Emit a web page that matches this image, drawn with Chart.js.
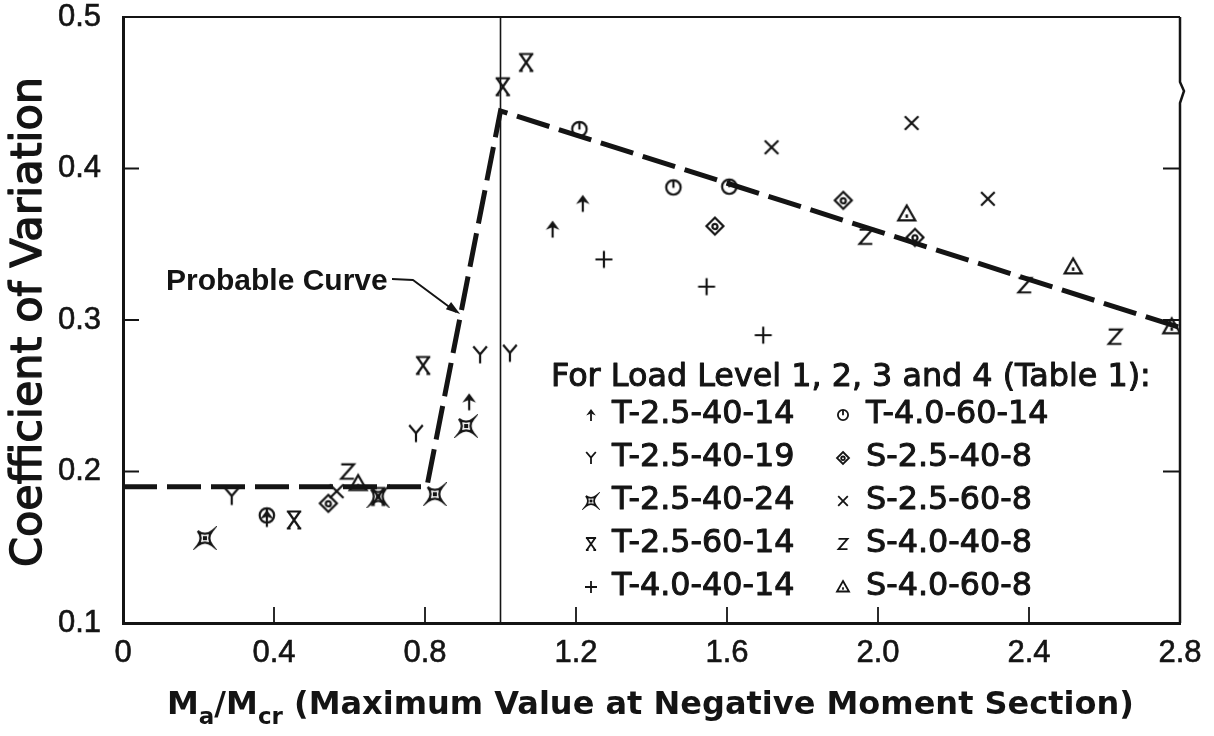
<!DOCTYPE html>
<html>
<head>
<meta charset="utf-8">
<title>Coefficient of Variation vs Ma/Mcr</title>
<script src="https://cdn.jsdelivr.net/npm/chart.js@4.4.1/dist/chart.umd.min.js"></script>
<style>
  html, body { margin: 0; padding: 0; background: #fff; }
  #wrap { width: 1214px; height: 736px; }
</style>
</head>
<body>
<div id="wrap"><canvas id="cov-chart" width="1214" height="736"></canvas></div>
<script>
// Specimen series, legend order (left column then right column)
const seriesNames = ['T-2.5-40-14', 'T-2.5-40-19', 'T-2.5-40-24', 'T-2.5-60-14', 'T-4.0-40-14',
  'T-4.0-60-14', 'S-2.5-40-8', 'S-2.5-60-8', 'S-4.0-40-8', 'S-4.0-60-8'];
const seriesMarks = ['arrow', 'fork', 'star', 'hourglass', 'plus',
  'circle', 'diamond', 'cross', 'zed', 'triangle'];

// [Ma/Mcr, coefficient of variation] for load levels 1-4
const t25_40_14 = [[0.381, 0.169], [0.917, 0.246], [1.138, 0.360], [1.218, 0.377]];
const t25_40_19 = [[0.288, 0.1835], [0.776, 0.225], [0.946, 0.277], [1.025, 0.278]];
const t25_40_24 = [[0.217, 0.156], [0.676, 0.1835], [0.826, 0.185], [0.909, 0.230]];
const t25_60_14 = [[0.453, 0.168], [0.676, 0.1835], [0.795, 0.270], [1.006, 0.454], [1.068, 0.470]];
const t40_40_14 = [[1.274, 0.340], [1.546, 0.322], [1.696, 0.290]];
const t40_60_14 = [[0.381, 0.171], [1.209, 0.426], [1.458, 0.3875], [1.606, 0.388]];
const s25_40_8 = [[0.544, 0.179], [1.568, 0.362], [1.908, 0.379], [2.098, 0.3545]];
const s25_60_8 = [[0.566, 0.187], [1.718, 0.414], [2.089, 0.430], [2.291, 0.380]];
const s40_40_8 = [[0.595, 0.200], [1.968, 0.355], [2.389, 0.323], [2.628, 0.289]];
const s40_60_8 = [[0.623, 0.192], [2.076, 0.370], [2.517, 0.335], [2.778, 0.2955]];
const seriesData = [t25_40_14, t25_40_19, t25_40_24, t25_60_14, t40_40_14,
  t40_60_14, s25_40_8, s25_60_8, s40_40_8, s40_60_8];

// probable curve
const probableX = [0, 0.805, 1.0, 2.8];
const probableY = [0.19, 0.19, 0.438, 0.295];
const crackRatio = 1.0;
const noteTip = [0.893, 0.304];

const xTicks = [0, 0.4, 0.8, 1.2, 1.6, 2.0, 2.4, 2.8];
const xTickLabels = ['0', '0.4', '0.8', '1.2', '1.6', '2.0', '2.4', '2.8'];
const yTicks = [0.1, 0.2, 0.3, 0.4, 0.5];
const yTickLabels = ['0.1', '0.2', '0.3', '0.4', '0.5'];

const INK = '#141414';
const SANS = '"DejaVu Sans", sans-serif';

// little glyph canvases used as point styles
function makeMark(kind, size, lw) {
  const c = document.createElement('canvas');
  c.width = c.height = Math.ceil(size + lw * 2 + 2);
  const g = c.getContext('2d');
  let h = size / 2;
  g.translate(c.width / 2, c.height / 2);
  g.strokeStyle = INK;
  g.fillStyle = INK;
  g.lineWidth = lw;
  g.beginPath();
  switch (kind) {
    case 'arrow':
      g.moveTo(0, h); g.lineTo(0, -h * 0.3); g.stroke();
      g.beginPath();
      g.moveTo(0, -h); g.lineTo(h * 0.8, h * 0.1); g.lineTo(0, -h * 0.25); g.lineTo(-h * 0.8, h * 0.1);
      g.closePath(); g.fill();
      break;
    case 'fork':
      g.moveTo(-h * 0.8, -h); g.lineTo(0, -h * 0.05); g.lineTo(h * 0.8, -h);
      g.moveTo(0, -h * 0.05); g.lineTo(0, h); g.stroke();
      break;
    case 'star':
      h *= 0.85;
      g.moveTo(-h, -h);
      g.quadraticCurveTo(0, -h * 0.2, h, -h);
      g.quadraticCurveTo(h * 0.2, 0, h, h);
      g.quadraticCurveTo(0, h * 0.2, -h, h);
      g.quadraticCurveTo(-h * 0.2, 0, -h, -h);
      g.stroke();
      g.fillRect(-h * 0.28, -h * 0.28, h * 0.56, h * 0.56);
      break;
    case 'hourglass':
      g.moveTo(-h * 0.85, -h); g.lineTo(h * 0.85, -h);
      g.moveTo(-h * 0.7, -h); g.lineTo(h * 0.7, h);
      g.moveTo(h * 0.7, -h); g.lineTo(-h * 0.7, h);
      g.moveTo(-h * 0.85, h); g.lineTo(-h * 0.4, h);
      g.moveTo(h * 0.4, h); g.lineTo(h * 0.85, h);
      g.stroke();
      break;
    case 'plus':
      g.moveTo(-h, 0); g.lineTo(h, 0); g.moveTo(0, -h); g.lineTo(0, h); g.stroke();
      break;
    case 'circle':
      g.arc(0, 0, h * 0.85, 0, Math.PI * 2); g.stroke();
      g.beginPath(); g.moveTo(0, -h * 0.85); g.lineTo(0, h * 0.05); g.stroke();
      break;
    case 'diamond':
      g.moveTo(0, -h); g.lineTo(h, 0); g.lineTo(0, h); g.lineTo(-h, 0); g.closePath(); g.stroke();
      g.beginPath(); g.arc(0, h * 0.05, h * 0.3, 0, Math.PI * 2); g.stroke();
      break;
    case 'cross':
      g.moveTo(-h * 0.8, -h * 0.8); g.lineTo(h * 0.8, h * 0.8);
      g.moveTo(h * 0.8, -h * 0.8); g.lineTo(-h * 0.8, h * 0.8); g.stroke();
      break;
    case 'zed':
      g.moveTo(-h * 0.75, -h * 0.85); g.lineTo(h * 0.75, -h * 0.85);
      g.lineTo(-h * 0.75, h * 0.85); g.lineTo(h * 0.75, h * 0.85); g.stroke();
      break;
    case 'triangle':
      g.moveTo(0, -h); g.lineTo(h, h * 0.75); g.lineTo(-h, h * 0.75); g.closePath(); g.stroke();
      g.fillRect(-h * 0.15, h * 0.05, h * 0.3, h * 0.4);
      break;
  }
  return c;
}

const plotMarks = seriesMarks.map(k => makeMark(k, 17, 2.2));
const keyMarks = seriesMarks.map(k => makeMark(k, 12, 1.8));

const datasets = seriesData.map((pts, i) => ({
  label: seriesNames[i],
  data: pts.map(p => ({ x: p[0], y: p[1] })),
  pointStyle: plotMarks[i],
  showLine: false,
}));

datasets.push({
  type: 'line',
  label: 'Probable Curve',
  data: probableX.map((x, i) => ({ x, y: probableY[i] })),
  borderColor: INK,
  borderWidth: 5,
  borderDash: [34, 10],
  pointRadius: 0,
  tension: 0,
  fill: false,
});

function inkLine(ctx, pts, lw) {
  ctx.beginPath();
  ctx.moveTo(pts[0][0], pts[0][1]);
  for (let i = 1; i < pts.length; i++) ctx.lineTo(pts[i][0], pts[i][1]);
  ctx.lineWidth = lw;
  ctx.stroke();
}

// fill plus a thin outline, gives the book face a medium weight
function inkText(ctx, s, x, y, sw) {
  ctx.fillText(s, x, y);
  if (sw) {
    ctx.lineWidth = sw;
    ctx.strokeText(s, x, y);
  }
}

// frame, inward ticks and the Ma = Mcr line, under the marks
const framePlugin = {
  id: 'frame',
  beforeDatasetsDraw(chart) {
    const { ctx, chartArea: a, scales: { x, y } } = chart;
    ctx.save();
    ctx.strokeStyle = INK;
    ctx.lineCap = 'butt';
    // top and right edges, right one with a break
    inkLine(ctx, [[a.left, a.top], [a.right, a.top]], 2);
    inkLine(ctx, [[a.right, a.top], [a.right, a.top + 65], [a.right + 4, a.top + 74],
      [a.right, a.top + 86], [a.right, a.bottom]], 2.5);
    yTicks.slice(1, -1).forEach(v => {
      const py = y.getPixelForValue(v);
      inkLine(ctx, [[a.left, py], [a.left + 16, py]], 2);
      inkLine(ctx, [[a.right, py], [a.right - 17, py]], 2);
    });
    xTicks.slice(1, -1).forEach(v => {
      const px = x.getPixelForValue(v);
      inkLine(ctx, [[px, a.bottom], [px, a.bottom - 16]], 1.8);
    });
    const cx = x.getPixelForValue(crackRatio);
    inkLine(ctx, [[cx, a.top], [cx, a.bottom]], 1.6);
    ctx.restore();
  },
  afterDraw(chart) {
    const { ctx, scales: { x, y } } = chart;
    ctx.save();
    ctx.fillStyle = INK;
    ctx.strokeStyle = INK;
    ctx.lineJoin = 'round';

    // axis titles
    ctx.save();
    ctx.translate(30, 322);
    ctx.rotate(-Math.PI / 2);
    ctx.font = '43px ' + SANS;
    ctx.textAlign = 'center';
    ctx.textBaseline = 'middle';
    inkText(ctx, 'Coefficient of Variation', 0, 0, 1.4);
    ctx.restore();

    const big = 'bold 32px ' + SANS;
    const small = 'bold 23px ' + SANS;
    const parts = [['M', big, 0], ['a', small, 10], ['/M', big, 0], ['cr', small, 10],
      [' (Maximum Value at Negative Moment Section)', big, 0]];
    ctx.textBaseline = 'alphabetic';
    ctx.textAlign = 'left';
    let tx = 167;
    parts.forEach(([s, f, dy]) => {
      ctx.font = f;
      ctx.fillText(s, tx, 714 + dy);
      tx += ctx.measureText(s).width;
    });

    // annotation of the curve
    ctx.font = 'bold 30px "Liberation Sans", Arial, sans-serif';
    ctx.textBaseline = 'middle';
    ctx.fillText('Probable Curve', 166, 282);
    const tipX = x.getPixelForValue(noteTip[0]);
    const tipY = y.getPixelForValue(noteTip[1]);
    inkLine(ctx, [[392, 279], [413, 280], [tipX - 4, tipY - 2]], 2);
    const ang = Math.atan2(tipY - 280, tipX - 413);
    ctx.beginPath();
    ctx.moveTo(tipX, tipY);
    ctx.lineTo(tipX - 15 * Math.cos(ang - 0.3), tipY - 15 * Math.sin(ang - 0.3));
    ctx.lineTo(tipX - 15 * Math.cos(ang + 0.3), tipY - 15 * Math.sin(ang + 0.3));
    ctx.closePath();
    ctx.fill();

    // key
    ctx.font = '31.8px ' + SANS;
    inkText(ctx, 'For Load Level 1, 2, 3 and 4 (Table 1):', 551, 378, 1);
    seriesNames.forEach((name, i) => {
      const col = i < 5 ? 0 : 1;
      const row = i % 5;
      const ky = 415 + row * 43;
      const mx = col ? 843 : 591;
      const m = keyMarks[i];
      ctx.drawImage(m, mx - m.width / 2, ky - m.height / 2);
      inkText(ctx, name, col ? 866 : 612, ky, 1);
    });
    ctx.restore();
  }
};

const tickFont = { family: '"Liberation Sans", Arial, sans-serif', size: 31 };

// drop the label overhang padding so the plot box keeps its place
function noOverhang(s) {
  s.paddingTop = 0;
  s.paddingBottom = 0;
  s.paddingLeft = 0;
  s.paddingRight = 0;
}

new Chart(document.getElementById('cov-chart'), {
  type: 'scatter',
  data: { datasets },
  options: {
    responsive: false,
    animation: false,
    layout: { padding: { top: 17, right: 34, left: 0, bottom: 0 } },
    plugins: { legend: { display: false }, tooltip: { enabled: false } },
    scales: {
      x: {
        type: 'linear', min: 0, max: 2.8,
        afterFit: s => { s.height = 113; noOverhang(s); },
        afterBuildTicks: s => { s.ticks = xTicks.map(v => ({ value: v })); },
        grid: { display: false, drawTicks: false },
        border: { display: true, color: INK, width: 3 },
        ticks: {
          font: tickFont, color: INK, padding: 12, maxRotation: 0, autoSkip: false,
          textStrokeColor: INK, textStrokeWidth: 0.6,
          callback: (v, i) => xTickLabels[i],
        },
      },
      y: {
        type: 'linear', min: 0.1, max: 0.5,
        afterFit: s => { s.width = 123; noOverhang(s); },
        afterBuildTicks: s => { s.ticks = yTicks.map(v => ({ value: v })); },
        grid: { display: false, drawTicks: false },
        border: { display: true, color: INK, width: 3 },
        ticks: {
          font: tickFont, color: INK, padding: 22, autoSkip: false,
          textStrokeColor: INK, textStrokeWidth: 0.6,
          callback: (v, i) => yTickLabels[i],
        },
      },
    },
  },
  plugins: [framePlugin],
});
</script>
</body>
</html>
